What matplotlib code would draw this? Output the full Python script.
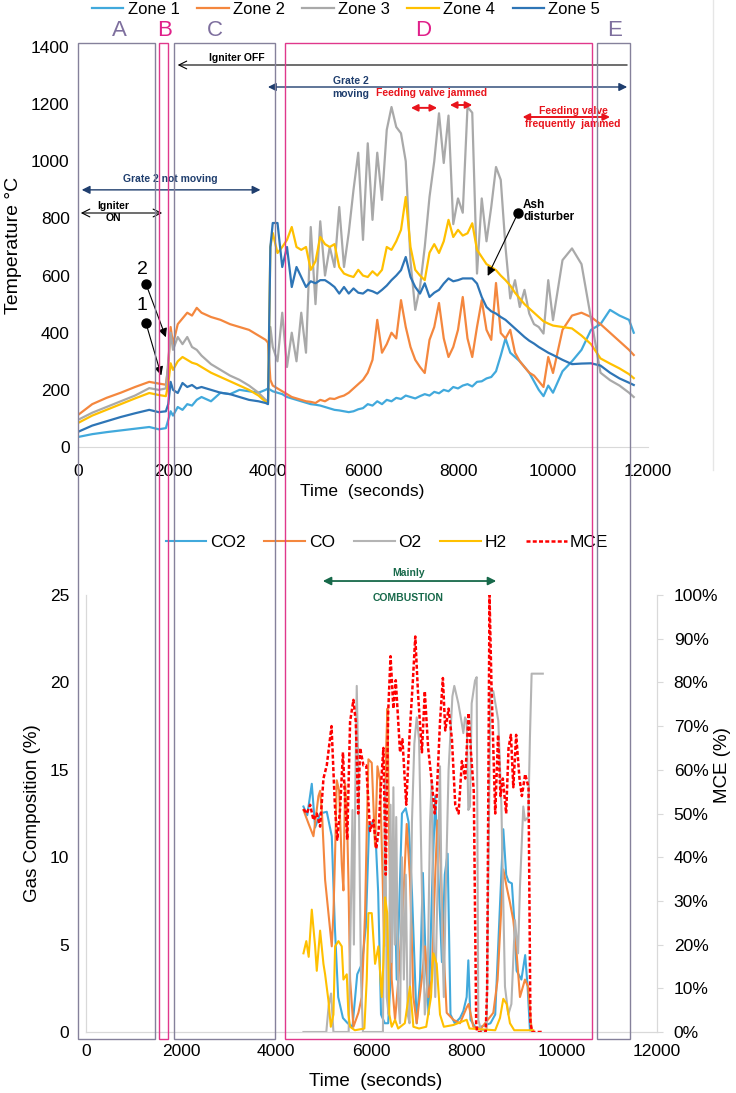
import matplotlib
matplotlib.use("Agg")
import matplotlib.pyplot as plt
import numpy as np
from matplotlib.patches import Rectangle
from matplotlib.lines import Line2D
from matplotlib.transforms import blended_transform_factory

plt.rcParams['font.family'] = ['Liberation Sans', 'DejaVu Sans']

# ---------------- top panel: zone temperatures ----------------
t_top = ([0, 300, 600, 900, 1200, 1500, 1700, 1850,
          1900, 1950, 2000, 2100, 2200, 2300, 2400, 2500, 2600, 2800, 3000, 3200, 3400, 3600, 3800, 3950,
          4000, 4050, 4100]
         + list(np.arange(4200, 10001, 100))
         + [10200, 10400, 10600, 10800, 11000, 11200, 11400, 11600, 11700])

zone1 = [35, 45, 52, 58, 64, 70, 62, 66,
         95, 125, 110, 140, 130, 150, 145, 165, 175, 160, 190, 185, 200, 195, 190, 200,
         205, 200, 195,
         190, 185, 175, 170, 165, 160, 155, 150, 148, 145,
         140, 135, 130, 128, 125, 122, 125, 132, 136, 150,
         145, 160, 150, 165, 160, 172, 168, 180, 175, 170,
         178, 185, 180, 193, 188, 200, 195, 210, 205, 215,
         220, 212, 228, 230, 240, 245, 265, 320, 380, 330,
         315, 300, 280, 260, 230, 200, 178, 215, 190,
         265, 300, 340, 410, 430, 480, 460, 445, 400]
zone2 = [112, 150, 172, 190, 210, 228, 222, 218,
         280, 420, 360, 430, 450, 470, 460, 487, 470, 455, 445, 430, 420, 410, 390, 375,
         365, 235, 215,
         205, 195, 185, 175, 170, 165, 160, 158, 154, 165,
         160, 170, 168, 175, 180, 190, 205, 220, 235, 260,
         305, 445, 330, 360, 400, 380, 514, 420, 350, 305,
         280, 259, 375, 420, 504, 380, 315, 350, 410, 525,
         380, 315, 420, 514, 410, 375, 574, 399, 380, 410,
         330, 300, 280, 260, 250, 230, 210, 315, 259,
         410, 460, 470, 455, 430, 400, 370, 340, 322]
zone3 = [95, 120, 140, 160, 180, 206, 200, 205,
         300, 400, 340, 385, 360, 385, 350, 340, 320, 290, 270, 250, 235, 215, 190, 165,
         160, 420, 350,
         300, 470, 280, 400, 300, 470, 330, 770, 500, 790,
         600, 700, 630, 840, 630, 750, 900, 1030, 725, 1063,
         795, 1030, 865, 1110, 1190, 1120, 1098, 1000, 650, 480,
         560, 700, 875, 1000, 1168, 994, 1160, 780, 870, 820,
         1190, 1170, 607, 870, 720, 840, 980, 935, 700, 520,
         584, 490, 550, 467, 430, 420, 397, 584, 444,
         654, 695, 640, 450, 260, 234, 215, 190, 175]
zone4 = [84, 110, 130, 150, 170, 189, 182, 178,
         220, 293, 270, 300, 315, 305, 295, 290, 280, 260, 245, 230, 215, 200, 180, 158,
         155, 700, 749,
         679, 700, 725, 770, 700, 690, 700, 620, 650, 735,
         710, 700, 710, 630, 607, 600, 595, 620, 600, 595,
         615, 600, 620, 700, 690, 720, 760, 875, 700, 620,
         600, 584, 680, 710, 679, 720, 795, 735, 760, 740,
         748, 783, 690, 665, 640, 630, 619, 600, 584, 565,
         540, 520, 500, 485, 470, 455, 440, 432, 425,
         420, 415, 390, 360, 310, 292, 275, 255, 241]
zone5 = [53, 75, 90, 105, 118, 130, 122, 125,
         150, 228, 200, 189, 224, 210, 217, 205, 210, 200, 190, 185, 175, 165, 160, 154,
         150, 700, 784,
         784, 630, 700, 560, 630, 595, 560, 580, 573, 584,
         584, 573, 560, 537, 560, 537, 555, 540, 537, 550,
         545, 537, 550, 565, 584, 600, 619, 665, 595, 560,
         537, 573, 525, 540, 550, 572, 590, 580, 584, 590,
         590, 590, 572, 525, 490, 475, 467, 455, 445, 430,
         415, 400, 385, 372, 362, 350, 340, 330, 322,
         305, 290, 292, 293, 285, 260, 240, 225, 217]

zone_names = ['Zone 1', 'Zone 2', 'Zone 3', 'Zone 4', 'Zone 5']
zone_colors = ['#41a9dc', '#f4873e', '#a9a9a9', '#ffc000', '#2e75b6']

# ---------------- bottom panel: gas composition ----------------
t_co2 = [4570, 4650, 4745, 4815, 4920, 5060, 5165, 5230, 5300, 5400, 5500, 5600, 5700, 5800,
         5880, 5950, 6030, 6080, 6140, 6200, 6280, 6350, 6420, 6470, 6530, 6570, 6640, 6720,
         6780, 6850, 6950, 7020, 7080, 7140, 7200, 7270, 7340, 7420, 7480, 7540, 7600, 7660,
         7750, 7860, 7930, 8000, 8035, 8080, 8200, 8300, 8400, 8500, 8600, 8680, 8770, 8830,
         8880, 8950, 9000, 9050, 9150, 9230, 9280, 9330]
co2 = [12.9, 12.4, 14.2, 11.7, 12.5, 12.6, 11.2, 6, 2, 0.8, 0.5, 0.3, 3.3, 3.9,
       6, 11.8, 12, 11.5, 8, 1, 0.5, 0.5, 4, 10.2, 3, 6, 12.5, 12.8,
       12, 8, 0.5, 3, 9.1, 4, 1, 8, 13.5, 8, 4, 9, 10.2, 1,
       0.5, 0.8, 1.2, 2, 4.1, 0.7, 0.2, 0.3, 0.4, 0.5, 1, 6, 11.6, 9,
       8.6, 8.5, 6.4, 3.5, 3, 4.4, 2.6, 0.1]

t_co = [4570, 4680, 4780, 4885, 4920, 4960, 5025, 5095, 5165, 5200, 5235, 5270, 5320, 5375,
        5410, 5445, 5480, 5515, 5550, 5620, 5725, 5795, 5865, 5900, 5935, 6005, 6075, 6125,
        6180, 6235, 6265, 6305, 6335, 6375, 6425, 6495, 6565, 6670, 6740, 6810, 6880, 6950,
        7055, 7125, 7195, 7265, 7335, 7385, 7440, 7510, 7580, 7720, 7860, 8000, 8040, 8140,
        8300, 8560, 8650, 8770, 8840, 8910, 8980, 9050, 9120, 9225, 9290, 9365]
co = [12.7, 11.9, 11.2, 13.5, 13.8, 12.5, 8.7, 6.8, 4.9, 6.8, 10.2, 14.4, 13.8, 9.6,
      8.1, 14.2, 12.9, 8.7, 3, 0.3, 1.1, 2, 6.8, 11.5, 15.6, 15.4, 10.6, 15.2,
      14.4, 8.7, 4.9, 16, 18.5, 10.6, 3, 0.7, 3, 7.7, 11.9, 8.7, 2, 0.5,
      3, 4.9, 2, 3, 8.7, 12.1, 10.6, 4.9, 1.1, 0.7, 0.5, 1.4, 1.6, 0.3,
      0.2, 1.1, 3, 9.3, 8.3, 7.4, 6.4, 4.5, 2, 3, 2.6, 0.1]

t_o2 = [4570, 5050, 5100, 5150, 5200, 5520, 5560, 5600, 5630, 5660, 5690, 5730, 5780, 5820,
        6240, 6285, 6320, 6360, 6400, 6430, 6460, 6490, 6520, 6560, 6600, 6640, 6680, 6720,
        6760, 6800, 6850, 6900, 6950, 7000, 7060, 7120, 7180, 7230, 7265, 7300, 7340, 7400,
        7440, 7480, 7520, 7560, 7620, 7700, 7740, 7825, 7895, 7930, 7965, 8000, 8035, 8070,
        8105, 8175, 8210, 8245, 8300, 8420, 8460, 8500, 8560, 8665, 8730, 8805, 8875, 8940,
        9015, 9080, 9120, 9190, 9225, 9295, 9330, 9365, 9600]
o2 = [0, 0, 1.5, 2.2, 0, 0, 6, 12.7, 5, 14, 19.8, 14, 3, 0,
      0, 14.4, 2, 1, 13, 4, 14, 5, 12.3, 2, 0.5, 10, 3, 9,
      1, 0.5, 12, 16.5, 18, 16.7, 8, 1, 3, 12, 14.4, 6, 2, 10,
      15.2, 6, 2, 8, 15, 19.2, 19.8, 18.8, 17.7, 17.1, 18, 17.8, 12.7, 12.9,
      18.8, 20.1, 20.3, 0.7, 0.1, 0.1, 10, 19.6, 19.5, 17.8, 12.9, 2.6, 1, 1.6,
      6.4, 4.5, 8.3, 12.9, 12.1, 12.3, 16.9, 20.5, 20.5]

t_h2 = [4570, 4630, 4680, 4745, 4815, 4850, 4920, 4990, 5025, 5095, 5145, 5200, 5235, 5305,
        5375, 5410, 5480, 5515, 5550, 5650, 5850, 5900, 5935, 6005, 6075, 6145, 6215, 6250,
        6285, 6330, 6375, 6425, 6495, 6560, 6700, 6810, 6880, 7000, 7150, 7250, 7300, 7370,
        7440, 7520, 7720, 8000, 8060, 8600, 8700, 8770, 8840, 8910, 9000, 9400]
h2 = [4.5, 5.2, 4.3, 7, 4.9, 3.5, 5.8, 3.9, 3.3, 1.8, 0.3, 1, 4.9, 5.2,
      4.9, 3, 3.3, 1, 0.3, 0.1, 0.2, 3, 6.8, 6.8, 3.9, 4.9, 2, 4,
      7.7, 6.8, 1, 0.3, 0.7, 0.2, 0.5, 2.6, 0.3, 0.2, 0.3, 2, 4.5, 3.9,
      1, 0.3, 0.4, 0.7, 0.2, 0.1, 0.8, 1.9, 1.6, 0.5, 0.1, 0.1]

t_mce = [4570, 4640, 4710, 4780, 4850, 4920, 4990, 5060, 5160, 5230, 5280, 5340, 5400, 5440,
         5490, 5550, 5620, 5670, 5720, 5760, 5830, 5890, 5970, 6040, 6100, 6150, 6190, 6250,
         6300, 6350, 6400, 6460, 6510, 6600, 6650, 6730, 6800, 6870, 6920, 6980, 7060, 7120,
         7190, 7260, 7330, 7370, 7440, 7500, 7550, 7620, 7690, 7760, 7830, 7900, 7970, 8040,
         8090, 8150, 8200, 8220, 8400, 8430, 8480, 8520, 8600, 8660, 8710, 8760, 8830, 8880,
         8930, 8980, 9040, 9110, 9160, 9230, 9300, 9340, 9380, 9620]
mce = [51, 50, 52, 48.5, 50, 47, 58, 61, 70, 52, 44, 51, 64, 54,
       44, 71, 76, 71, 50, 65, 61, 61, 46, 48.5, 42, 46, 55, 65,
       36, 73, 86, 74, 80.5, 64, 67, 52, 68, 80.5, 90.5, 77, 64, 78,
       65, 58, 50, 54, 71, 81, 69, 74, 67, 52, 50, 62, 58, 73,
       64, 55, 2, 0, 0, 10, 100, 80, 50, 68, 54, 58, 50, 65,
       68, 56, 68, 58, 54, 59, 56, 2, 0, 0]

# phase boxes (start, end in seconds) and labels
box_labels = ['A', 'B', 'C', 'D', 'E']
box_start = [0, 1705, 2020, 4360, 10925]
box_end = [1620, 1895, 4150, 10820, 11620]
letter_pos = [880, 1830, 2880, 7260, 11300]

grey_box = '#85819b'
pink_box = '#e0388c'
box_colors = [grey_box, pink_box, grey_box, pink_box, grey_box]
letter_colors = ['#7e6f9e', '#e0208a', '#7e6f9e', '#e0208a', '#7e6f9e']

W, H = 736, 1093
fig = plt.figure(figsize=(W / 100, H / 100), dpi=100)

# ---------- top axes ----------
ax1 = fig.add_axes([78 / W, 1 - 447 / H, 570 / W, 400 / H])
for name, col, vals in zip(zone_names, zone_colors, [zone1, zone2, zone3, zone4, zone5]):
    ax1.plot(t_top, vals, color=col, lw=1.6, label=name)
ax1.set_xlim(0, 12000)
ax1.set_ylim(0, 1400)
ax1.set_xticks(range(0, 12001, 2000))
ax1.set_yticks(range(0, 1401, 200))
ax1.tick_params(length=0, labelsize=12.5)
ax1.tick_params(axis='x', pad=12)
ax1.tick_params(axis='y', pad=6)
for s in ['left', 'right', 'top']:
    ax1.spines[s].set_visible(False)
ax1.spines['bottom'].set_color('#d9d9d9')
ax1.set_ylabel('Temperature °C', fontsize=14)
ax1.yaxis.set_label_coords(-0.098, 0.505)
ax1.set_xlabel('Time  (seconds)', fontsize=12.5)
ax1.xaxis.set_label_coords(0.498, -0.0925)

navy = '#1f3e6e'
red = '#e8141c'
ann_kw = dict(annotation_clip=False)
# Igniter OFF
ax1.annotate('', xy=(2040, 1337), xytext=(11620, 1337),
             arrowprops=dict(arrowstyle='->', color='black', lw=0.8, mutation_scale=14), **ann_kw)
ax1.text(3350, 1360, 'Igniter OFF', fontsize=7.5, fontweight='bold', ha='center', va='center')
# Grate 2 moving
ax1.annotate('', xy=(3940, 1260), xytext=(11620, 1260),
             arrowprops=dict(arrowstyle='<|-|>', color=navy, lw=1.0, mutation_scale=12), **ann_kw)
ax1.text(5750, 1258, 'Grate 2\nmoving', fontsize=7.5, fontweight='bold', color=navy,
         ha='center', va='center', linespacing=1.3)
# Feeding valve jammed
ax1.text(7450, 1239, 'Feeding valve jammed', fontsize=7.5, fontweight='bold', color=red,
         ha='center', va='center')
ax1.annotate('', xy=(6950, 1187), xytext=(7620, 1187),
             arrowprops=dict(arrowstyle='<|-|>', color=red, lw=1.4, mutation_scale=10), **ann_kw)
ax1.annotate('', xy=(7770, 1197), xytext=(8360, 1197),
             arrowprops=dict(arrowstyle='<|-|>', color=red, lw=1.4, mutation_scale=10), **ann_kw)
# Feeding valve frequently jammed
ax1.annotate('', xy=(9300, 1155), xytext=(11260, 1155),
             arrowprops=dict(arrowstyle='<|-|>', color=red, lw=1.4, mutation_scale=10), **ann_kw)
ax1.text(10420, 1153, 'Feeding valve\nfrequently  jammed', fontsize=7.5, fontweight='bold',
         color=red, ha='center', va='center', linespacing=1.4)
# Grate 2 not moving
ax1.annotate('', xy=(20, 900), xytext=(3900, 900),
             arrowprops=dict(arrowstyle='<|-|>', color=navy, lw=1.0, mutation_scale=12), **ann_kw)
ax1.text(1940, 938, 'Grate 2 not moving', fontsize=7.5, fontweight='bold', color=navy,
         ha='center', va='center')
# Igniter ON
ax1.annotate('', xy=(0, 819), xytext=(1830, 819),
             arrowprops=dict(arrowstyle='<->', color='black', lw=0.8, mutation_scale=14), **ann_kw)
ax1.text(740, 822, 'Igniter\nON', fontsize=7.5, fontweight='bold', ha='center', va='center',
         linespacing=1.3)
# points 1 and 2
for lab, dot, tip, lab_pos in [('2', (1430, 571), (1870, 375), (1347, 622)),
                               ('1', (1430, 434), (1770, 241), (1347, 497))]:
    ax1.plot(*dot, 'o', color='black', ms=6.5)
    ax1.annotate('', xy=tip, xytext=dot,
                 arrowprops=dict(arrowstyle='-|>', color='black', lw=0.8, mutation_scale=13))
    ax1.text(*lab_pos, lab, fontsize=14, ha='center', va='center')
# Ash disturber
ax1.plot(9263, 819, 'o', color='black', ms=6.5)
ax1.annotate('', xy=(8600, 590), xytext=(9263, 819),
             arrowprops=dict(arrowstyle='-|>', color='black', lw=0.8, mutation_scale=13))
ax1.text(9370, 826, 'Ash\ndisturber', fontsize=8.5, fontweight='bold', ha='left', va='center',
         linespacing=1.1)

fig.legend(*ax1.get_legend_handles_labels(), loc='center', bbox_to_anchor=(346 / W, 1 - 9 / H),
           ncol=5, frameon=False, fontsize=12, handlelength=1.9, handletextpad=0.25,
           columnspacing=1.05)

# ---------- bottom axes ----------
ax2 = fig.add_axes([86 / W, 1 - 1032 / H, 571 / W, 437 / H])
ax2.plot(t_co2, co2, color='#41a9dc', lw=1.5, label='CO2')
ax2.plot(t_co, co, color='#f4873e', lw=1.5, label='CO')
ax2.plot(t_o2, o2, color='#b4b4b4', lw=1.5, label='O2')
ax2.plot(t_h2, h2, color='#ffc000', lw=1.5, label='H2')
ax2.set_xlim(0, 12000)
ax2.set_ylim(0, 25)
ax2.set_xticks(range(0, 12001, 2000))
ax2.set_yticks(range(0, 26, 5))
ax2.tick_params(length=0, labelsize=12.5)
ax2.tick_params(axis='y', pad=12)
ax2.tick_params(axis='x', pad=9)
ax2.spines['top'].set_visible(False)
for s in ['left', 'bottom', 'right']:
    ax2.spines[s].set_color('#d9d9d9')
ax2.set_ylabel('Gas Composition (%)', fontsize=13.5)
ax2.yaxis.set_label_coords(-0.079, 0.5)
ax2.set_xlabel('Time  (seconds)', fontsize=13.5)
ax2.xaxis.set_label_coords(0.508, -0.094)

ax3 = ax2.twinx()
ax3.plot(t_mce, mce, color='#ff0000', lw=1.8, ls=(0, (1.6, 0.9)), label='MCE')
ax3.set_ylim(0, 100)
ax3.set_yticks(range(0, 101, 10))
ax3.set_yticklabels([f'{v}%' for v in range(0, 101, 10)])
ax3.tick_params(axis='y', length=4, color='#d9d9d9', labelsize=12.5, pad=8)
ax3.spines['top'].set_visible(False)
for s in ['left', 'bottom', 'right']:
    ax3.spines[s].set_color('#d9d9d9')
ax3.set_ylabel('MCE (%)', fontsize=13.5)
ax3.yaxis.set_label_coords(1.099, 0.61)

green = '#17694a'
ax2.annotate('', xy=(4918, 25.8), xytext=(8680, 25.8),
             arrowprops=dict(arrowstyle='<|-|>', color=green, lw=1.3, mutation_scale=12),
             annotation_clip=False)
ax2.text(6770, 26.25, 'Mainly', fontsize=7.5, fontweight='bold', color=green, ha='center',
         va='center', clip_on=False)
ax2.text(6770, 24.8, 'COMBUSTION', fontsize=7.5, fontweight='bold', color=green, ha='center',
         va='center')

h_a, l_a = ax2.get_legend_handles_labels()
h_b, l_b = ax3.get_legend_handles_labels()
fig.legend(h_a + h_b, l_a + l_b, loc='center', bbox_to_anchor=(387 / W, 1 - 542 / H), ncol=5,
           frameon=False, fontsize=12.5, handlelength=2.35, handletextpad=0.2,
           columnspacing=1.1)

# ---------- phase boxes spanning both panels ----------
trans = blended_transform_factory(ax1.transData, fig.transFigure)
y_lo, y_hi = 1 - 1039 / H, 1 - 43 / H
for lab, x0, x1, xl, ec, lc in zip(box_labels, box_start, box_end, letter_pos, box_colors,
                                   letter_colors):
    fig.add_artist(Rectangle((x0, y_lo), x1 - x0, y_hi - y_lo, transform=trans, fill=False,
                             ec=ec, lw=1.0, zorder=20))
    fig.text(xl, 1 - 31 / H, lab, transform=trans, fontsize=16, color=lc,
             ha='center', va='center')

# faint border of the original plot area
fig.add_artist(Line2D([713 / W, 713 / W], [1 - 470 / H, 1.0], color='#e6e6e6', lw=1))

fig.savefig('out.png', dpi=100)
